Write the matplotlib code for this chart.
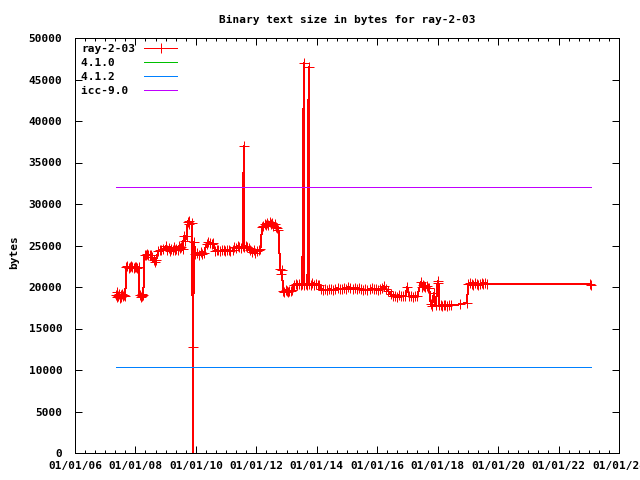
import numpy as np
import pandas as pd
import matplotlib
matplotlib.use("Agg")
import matplotlib.pyplot as plt
import matplotlib.dates as mdates

# ray-2-03: binary text size per build date
dates = [
    '2007-05-10', '2007-05-20', '2007-05-28', '2007-06-05', '2007-06-15', '2007-06-25',
    '2007-07-05', '2007-07-15', '2007-07-25', '2007-08-05', '2007-08-20', '2007-09-01',
    '2007-09-10', '2007-09-25', '2007-10-10', '2007-10-25', '2007-11-10', '2007-11-25',
    '2007-12-10', '2007-12-25', '2008-01-10', '2008-01-25', '2008-02-10',
    '2008-02-20', '2008-03-05', '2008-03-15', '2008-03-25', '2008-04-05',
    '2008-04-20', '2008-05-05', '2008-05-20', '2008-06-05', '2008-06-20', '2008-07-10', '2008-07-25',
    '2008-08-10', '2008-08-25', '2008-09-10',
    '2008-10-01', '2008-10-20', '2008-11-10', '2008-12-01',
    '2009-01-01', '2009-01-20', '2009-02-05', '2009-02-20', '2009-03-10', '2009-03-25',
    '2009-04-10', '2009-04-25', '2009-05-10', '2009-05-25', '2009-06-10', '2009-06-25',
    '2009-07-10', '2009-07-25',
    '2009-08-10', '2009-08-25', '2009-09-10', '2009-09-25', '2009-10-05', '2009-10-15',
    '2009-11-20', '2009-11-23', '2009-11-26',
    '2009-12-10', '2009-12-25', '2010-01-15', '2010-02-05', '2010-03-01', '2010-03-20', '2010-04-10',
    '2010-05-10', '2010-06-01', '2010-06-20', '2010-07-10', '2010-08-01',
    '2010-08-20', '2010-09-10', '2010-10-01', '2010-10-20', '2010-11-10', '2010-12-01',
    '2010-12-20', '2011-01-10', '2011-02-01', '2011-02-20', '2011-03-20',
    '2011-04-10', '2011-05-01', '2011-05-20', '2011-06-10', '2011-07-01', '2011-07-20',
    '2011-08-03', '2011-08-10', '2011-08-25', '2011-09-10', '2011-10-01',
    '2011-10-20', '2011-11-10', '2011-12-01', '2011-12-20', '2012-01-10', '2012-02-01', '2012-02-20',
    '2012-03-10', '2012-03-25', '2012-04-10', '2012-04-25', '2012-05-10', '2012-05-25',
    '2012-06-10', '2012-06-25', '2012-07-10', '2012-07-25', '2012-08-10', '2012-08-25',
    '2012-09-10', '2012-09-25',
    '2012-10-15', '2012-10-25', '2012-11-05',
    '2012-11-20', '2012-12-05', '2012-12-20', '2013-01-05', '2013-01-20', '2013-02-05',
    '2013-02-20', '2013-03-10',
    '2013-04-01', '2013-04-20', '2013-05-10', '2013-06-01', '2013-06-20', '2013-07-10',
    '2013-07-28', '2013-08-05', '2013-08-25', '2013-09-10', '2013-09-25', '2013-10-01',
    '2013-10-20', '2013-11-10', '2013-12-01', '2013-12-20', '2014-01-10', '2014-02-01',
    '2014-02-20', '2014-03-15', '2014-04-10', '2014-05-05', '2014-06-01', '2014-06-25',
    '2014-07-20', '2014-08-15', '2014-09-10', '2014-10-05', '2014-11-01', '2014-11-25',
    '2014-12-20', '2015-01-15', '2015-02-10', '2015-03-10', '2015-04-05', '2015-05-01',
    '2015-05-25', '2015-06-20', '2015-07-15', '2015-08-10', '2015-09-05', '2015-10-01',
    '2015-10-25', '2015-11-20', '2015-12-15', '2016-01-10', '2016-02-05', '2016-03-01',
    '2016-03-25', '2016-04-20', '2016-05-15',
    '2016-06-10', '2016-07-05', '2016-08-01', '2016-08-25', '2016-09-20', '2016-10-15',
    '2016-11-10', '2016-12-05', '2017-01-01', '2017-01-20', '2017-02-15', '2017-03-10',
    '2017-04-05', '2017-05-01',
    '2017-06-10', '2017-06-20', '2017-07-05', '2017-07-20', '2017-08-05', '2017-08-20',
    '2017-09-05', '2017-09-20',
    '2017-10-10', '2017-10-25', '2017-11-15', '2017-12-10', '2018-01-01', '2018-01-10',
    '2018-01-20',
    '2018-02-05', '2018-02-25', '2018-03-15', '2018-04-05', '2018-04-25', '2018-05-15',
    '2018-06-05', '2018-09-25', '2018-12-20',
    '2019-01-05', '2019-01-25', '2019-02-15', '2019-03-05', '2019-03-25', '2019-04-15',
    '2019-05-05', '2019-05-25', '2019-06-15', '2019-07-05', '2019-07-25', '2019-08-15',
    '2023-01-20', '2023-01-28',
]
ray_2_03 = [
    19000, 18800, 19400, 18900, 19100, 18700,
    19000, 18800, 19200, 18900, 19000, 18900,
    22400, 22500, 22300, 22400, 22500, 22400,
    22300, 22400, 22400, 22300, 22400,
    19000, 18800, 19100, 18900, 19000,
    23800, 23900, 24000, 23800, 23900, 23800, 23600,
    23200, 23000, 23300,
    24300, 24500, 24400, 24600,
    24900, 24500, 24700, 24300, 24600, 24400,
    24800, 24400, 24600, 24500, 24900, 24700,
    24800, 24600,
    26100, 25600, 26200, 27800, 28000, 27600,
    27700, 0, 12800,
    25400, 24000, 24100, 23900, 24200, 24000, 24100,
    25200, 25400, 25300, 25200, 25300,
    24300, 24500, 24400, 24300, 24500, 24400,
    24300, 24500, 24400, 24300, 24400,
    24800, 24700, 24900, 24800, 24700, 24900,
    37000, 24800, 24900, 24800, 24700,
    24500, 24200, 24400, 24100, 24300, 24500, 24600,
    27200, 27400, 27600, 27500, 27700, 27500,
    27800, 27600, 27700, 27400, 27600, 27200,
    27100, 26900,
    22200, 21600, 22000,
    19500, 19400, 19600, 19500, 19400, 19500,
    19500, 19600,
    20300, 20400, 20300, 20400, 20300, 20400,
    47000, 20300, 20400, 20300, 46500, 20400,
    20300, 20500, 20300, 20400, 20300, 20200,
    19800, 19600, 19700, 19600, 19800, 19700,
    19600, 19700, 19900, 19700, 19800, 19900,
    19700, 20000, 19900, 19800, 19900, 19800,
    19900, 19700, 19600, 19700, 19600, 19700,
    19900, 19700, 19800, 19600, 19800, 19900,
    20100, 19700, 19500,
    19100, 18900, 18900, 18800, 19000, 18900,
    18900, 18900, 20000, 18900, 18900, 18800,
    18900, 18900,
    20600, 20000, 20200, 20100, 20000, 20100,
    19900, 19900,
    17900, 17700, 19300, 17800, 20700, 20500,
    17800,
    17800, 17700, 17800, 17800, 17700, 17800,
    17800, 17900, 18100,
    20400, 20500, 20400, 20300, 20500, 20400,
    20300, 20400, 20500, 20400, 20500, 20400,
    20400, 20200,
]

# flat reference sizes of other compilers
gcc_4_1_0 = 10350
gcc_4_1_2 = 10350
icc_9_0 = 32000

x = pd.to_datetime(dates)
ref_x = [x[0], x[-1]]

plt.rcParams['font.family'] = 'DejaVu Sans Mono'
plt.rcParams['font.weight'] = 'bold'
plt.rcParams['font.size'] = 8

px = 0.72  # one pixel at 100 dpi, in points

fig = plt.figure(figsize=(6.4, 4.8), dpi=100)
ax = fig.add_axes([75 / 640, 27 / 480, 544 / 640, 415 / 480])

# legend labels padded so the monospace text reads left-aligned like gnuplot's key
ax.plot(x, ray_2_03, color='#ff0000', lw=px, marker='+', ms=7, mew=px,
        antialiased=False, label='ray-2-03')
ax.plot(ref_x, [gcc_4_1_0] * 2, color='#00c000', lw=px, antialiased=False, label='4.1.0   ')
ax.plot(ref_x, [gcc_4_1_2] * 2, color='#0080ff', lw=px, antialiased=False, label='4.1.2   ')
ax.plot(ref_x, [icc_9_0] * 2, color='#c000ff', lw=px, antialiased=False, label='icc-9.0 ')

ax.set_xlim(pd.Timestamp('2006-01-01'), pd.Timestamp('2024-01-01'))
ax.set_ylim(0, 50000)
ax.set_yticks(np.arange(0, 50001, 5000))
ax.xaxis.set_major_locator(mdates.YearLocator(2))
ax.xaxis.set_minor_locator(mdates.MonthLocator(bymonth=[1, 5, 9]))
ax.xaxis.set_major_formatter(mdates.DateFormatter('%m/%d/%y'))

ax.tick_params(which='both', direction='in', top=True, right=True, width=px)
ax.tick_params(which='major', length=5)
ax.tick_params(which='minor', length=2.5)
ax.tick_params(axis='x', pad=6)
ax.tick_params(axis='y', pad=9)
for s in ax.spines.values():
    s.set_linewidth(px)

fig.text(347 / 640, 1 - 20 / 480, 'Binary text size in bytes for ray-2-03',
         ha='center', va='center')
fig.text(14 / 640, 1 - 252 / 480, 'bytes', rotation=90, ha='center', va='center')

ax.legend(loc='upper left', frameon=False, markerfirst=False, handlelength=3.0,
          labelspacing=0.35, borderaxespad=0.15, handletextpad=0.8)

fig.savefig('out.png', dpi=100)
